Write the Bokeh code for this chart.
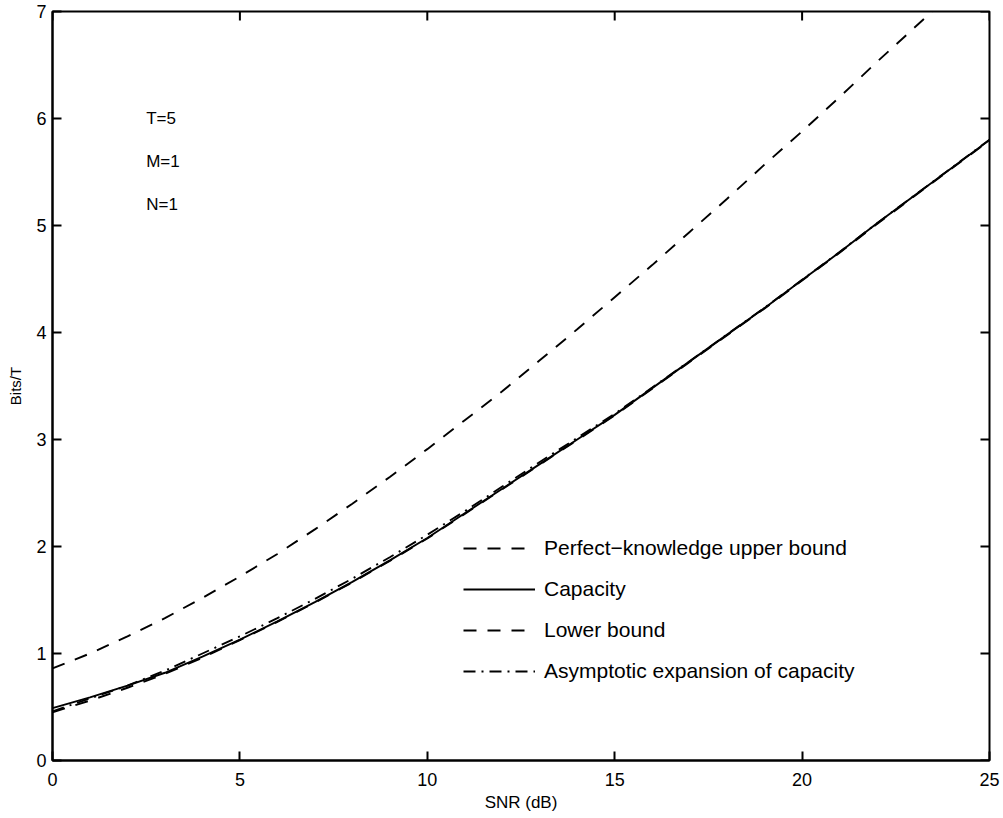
from bokeh.plotting import figure
from bokeh.models import Range1d, Legend, LegendItem, FixedTicker
from bokeh.core.properties import value
from bokeh.embed import file_html
from bokeh.resources import INLINE

# ---- data ----
snr_db = [0, 1, 2, 3, 4, 5, 6, 7, 8, 9, 10, 11, 12, 13, 14, 15, 16, 17, 18, 19, 20, 21, 22, 23, 24, 25]
upper_bound = [0.86, 1.00, 1.16, 1.33, 1.52, 1.72, 1.93, 2.16, 2.40, 2.65, 2.91, 3.18, 3.45, 3.74,
               4.03, 4.33, 4.63, 4.94, 5.25, 5.57, 5.88, 6.20, 6.53, 6.85, 7.17, 7.50]
capacity = [0.49, 0.59, 0.70, 0.82, 0.97, 1.13, 1.30, 1.48, 1.67, 1.87, 2.08, 2.31, 2.54, 2.77,
            3.00, 3.23, 3.48, 3.73, 3.98, 4.23, 4.49, 4.75, 5.02, 5.28, 5.54, 5.80]
lower_bound = [0.45, 0.56, 0.68, 0.81, 0.96, 1.125, 1.295, 1.475, 1.665, 1.865, 2.075, 2.305, 2.535,
               2.765, 2.995, 3.225, 3.475, 3.725, 3.975, 4.225, 4.485, 4.745, 5.015, 5.275, 5.535, 5.795]
asymptotic = [0.46, 0.58, 0.70, 0.84, 1.00, 1.16, 1.33, 1.51, 1.70, 1.90, 2.11, 2.33, 2.56, 2.79,
              3.015, 3.24, 3.485, 3.732, 3.982, 4.232, 4.492, 4.752, 5.022, 5.282, 5.542, 5.802]

series_labels = ["Perfect\u2212knowledge upper bound", "Capacity", "Lower bound",
                 "Asymptotic expansion of capacity"]
x_ticks = [0, 5, 10, 15, 20, 25]
y_ticks = [0, 1, 2, 3, 4, 5, 6, 7]
param_texts = ["T=5", "M=1", "N=1"]
param_x = [2.5, 2.5, 2.5]
param_y = [6.0, 5.6, 5.2]

X_MIN, X_MAX = 0, 25
Y_MIN, Y_MAX = 0, 7

FONT = "Liberation Sans"

p = figure(width=1000, height=814, output_backend="svg", toolbar_location=None,
           x_range=Range1d(X_MIN, X_MAX), y_range=Range1d(Y_MIN, Y_MAX),
           min_border_left=52, min_border_right=11, min_border_top=11, min_border_bottom=54,
           background_fill_color="white", border_fill_color="white")
p.xgrid.visible = False
p.ygrid.visible = False
p.outline_line_color = "black"
p.outline_line_width = 2

for ax, ticks in ((p.xaxis[0], x_ticks), (p.yaxis[0], y_ticks)):
    ax.ticker = FixedTicker(ticks=ticks)
    ax.major_tick_in = 9
    ax.major_tick_out = 0
    ax.minor_tick_in = 0
    ax.minor_tick_out = 0
    ax.major_tick_line_width = 2
    ax.axis_line_width = 2
    ax.major_label_text_font = FONT
    ax.major_label_text_font_size = "18px"
    ax.major_label_text_color = "black"
    ax.axis_label_text_font = FONT
    ax.axis_label_text_font_style = "normal"
    ax.axis_label_text_color = "black"

p.xaxis.axis_label = "SNR (dB)"
p.yaxis.axis_label = "Bits/T"
p.xaxis.axis_label_text_font_size = "17px"
p.yaxis.axis_label_text_font_size = "15px"
p.xaxis.major_label_standoff = 12
p.xaxis.axis_label_standoff = 4
p.yaxis.major_label_standoff = 6
p.yaxis.axis_label_standoff = 9

# mirrored inward ticks on the top and right frame edges (clipped to the frame)
p.rect(x=x_ticks, y=[Y_MAX] * len(x_ticks), width=2, height=18,
       width_units="screen", height_units="screen", fill_color="black", line_color=None)
p.rect(x=[X_MAX] * len(y_ticks), y=y_ticks, width=18, height=2,
       width_units="screen", height_units="screen", fill_color="black", line_color=None)

LW = 1.9
r_up = p.line(snr_db, upper_bound, line_color="black", line_width=LW, line_dash="13 11")
r_cap = p.line(snr_db, capacity, line_color="black", line_width=LW)
r_low = p.line(snr_db, lower_bound, line_color="black", line_width=LW, line_dash="13 11")
r_asy = p.line(snr_db, asymptotic, line_color="black", line_width=LW, line_dash="12 6 2 6")

p.text(x=param_x, y=param_y, text=param_texts, text_font=value(FONT), text_font_size="17px",
       text_baseline="middle", text_align="left", text_color="black")

legend = Legend(items=[LegendItem(label=series_labels[0], renderers=[r_up]),
                       LegendItem(label=series_labels[1], renderers=[r_cap]),
                       LegendItem(label=series_labels[2], renderers=[r_low]),
                       LegendItem(label=series_labels[3], renderers=[r_asy])],
                location=(411, 76), orientation="vertical",
                border_line_color=None, background_fill_alpha=0,
                glyph_width=72, glyph_height=26, label_height=26, label_standoff=9,
                spacing=15, padding=0, margin=0,
                label_text_font=FONT, label_text_font_size="21px", label_text_color="black")
p.add_layout(legend)

open("out.html", "w").write(file_html(p, INLINE))
